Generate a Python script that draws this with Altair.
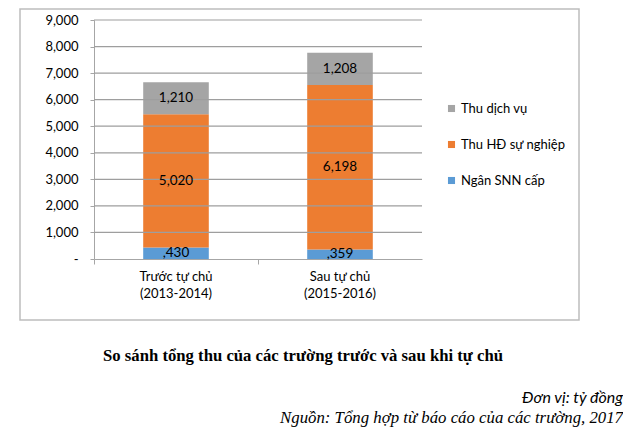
import altair as alt
import pandas as pd

categories = ["Trước tự chủ|(2013-2014)", "Sau tự chủ|(2015-2016)"]
series = ["Ngân SNN cấp", "Thu HĐ sự nghiệp", "Thu dịch vụ"]
ngan_snn = [430, 359]
thu_hd = [5020, 6198]
thu_dv = [1210, 1208]
colors = ["#5B9BD5", "#ED7D31", "#A5A5A5"]
legend_order = ["Thu dịch vụ", "Thu HĐ sự nghiệp", "Ngân SNN cấp"]
y_ticks = [0, 1000, 2000, 3000, 4000, 5000, 6000, 7000, 8000, 9000]

TITLE = "So sánh tổng thu của các trường trước và sau khi tự chủ"
UNIT = "Đơn vị: tỷ đồng"
SOURCE = "Nguồn: Tổng hợp từ báo cáo của các trường, 2017"

rows = []
for i, c in enumerate(categories):
    for k, (s, vals) in enumerate(zip(series, [ngan_snn, thu_hd, thu_dv])):
        rows.append({"cat": c, "series": s, "value": vals[i], "ord": k})
df = pd.DataFrame(rows)
grid_rows = [{"gv": v} for v in y_ticks[1:]]

FONT = "Lato, Noto Sans, sans-serif"
W, H = 328, 239

x_axis = alt.Axis(
    labelExpr="split(datum.label, '|')", labelAngle=0, labelFontSize=13,
    labelFont=FONT, labelColor="#000000", labelPadding=6, labelLineHeight=17,
    domainColor="#A6A6A6", tickColor="#A6A6A6", tickSize=5, bandPosition=0,
    grid=False, title=None,
)
y_axis = alt.Axis(
    values=y_ticks,
    labelExpr="datum.value == 0 ? '-\u00a0\u00a0' : format(datum.value, ',')",
    labelFontSize=13, labelFont=FONT, labelColor="#000000", labelPadding=12,
    labelOverlap=False, labelFlush=False,
    tickSize=4, tickColor="#A6A6A6", domainColor="#A6A6A6",
    grid=False, title=None,
)
x_scale = alt.Scale(paddingInner=0, paddingOuter=0)
y_scale = alt.Scale(domain=[0, 9000], nice=False)

grid = alt.Chart(alt.Data(values=grid_rows)).mark_rule(
    stroke="#9E9E9E", strokeWidth=1.2
).encode(
    y=alt.Y("gv:Q", scale=y_scale, axis=y_axis),
    x=alt.value(0),
    x2=alt.value(W),
)

bars = alt.Chart(df).mark_bar(width=alt.RelativeBandSize(0.4)).encode(
    x=alt.X("cat:N", sort=categories, scale=x_scale, axis=x_axis),
    y=alt.Y("value:Q", stack="zero", scale=y_scale, axis=y_axis),
    color=alt.Color(
        "series:N",
        scale=alt.Scale(domain=series, range=colors),
        sort=legend_order,
        legend=alt.Legend(
            title=None, orient="none", legendX=351, legendY=82,
            symbolType="square", symbolSize=50, symbolStrokeWidth=0,
            labelFontSize=13, labelFont=FONT, labelColor="#000000",
            rowPadding=22, labelOffset=3, values=legend_order,
        ),
    ),
    order=alt.Order("ord:Q"),
)

labels = alt.Chart(df).transform_stack(
    stack="value", groupby=["cat"], as_=["y0", "y1"], sort=[alt.SortField("ord")]
).transform_calculate(
    mid="(datum.y0 + datum.y1) / 2",
    txt="datum.value < 1000 ? ',' + format(datum.value, 'd') : format(datum.value, ',')",
).mark_text(fontSize=13.5, font=FONT, color="#000000").encode(
    x=alt.X("cat:N", sort=categories, scale=x_scale, axis=x_axis),
    y=alt.Y("mid:Q", scale=y_scale, axis=y_axis),
    text="txt:N",
)

one = alt.Data(values=[{"a": 1}])
frame = alt.Chart(one).mark_rect(fillOpacity=0, stroke="#BDBDBD", strokeWidth=1.5).encode(
    x=alt.value(-74), x2=alt.value(485), y=alt.value(-11), y2=alt.value(300)
)

title_t = alt.Chart(one).mark_text(
    font="Liberation Serif", fontWeight="bold", fontSize=16.7, color="#000000", align="center"
).encode(x=alt.value(209), y=alt.value(336), text=alt.value(TITLE))

unit_t = alt.Chart(one).mark_text(
    font=FONT, fontStyle="italic", fontSize=16, color="#000000", align="right"
).encode(x=alt.value(529), y=alt.value(378), text=alt.value(UNIT))

source_t = alt.Chart(one).mark_text(
    font="Liberation Serif", fontStyle="italic", fontSize=16.8, color="#000000", align="right"
).encode(x=alt.value(529), y=alt.value(398), text=alt.value(SOURCE))

chart = alt.layer(bars, grid, labels, frame, title_t, unit_t, source_t).properties(
    width=W, height=H, padding={"left": 11, "top": 0, "right": 0, "bottom": 0},
    background="#ffffff",
).configure_view(strokeWidth=0)

chart.save("out.html", embed_options={"renderer": "svg", "actions": False})
